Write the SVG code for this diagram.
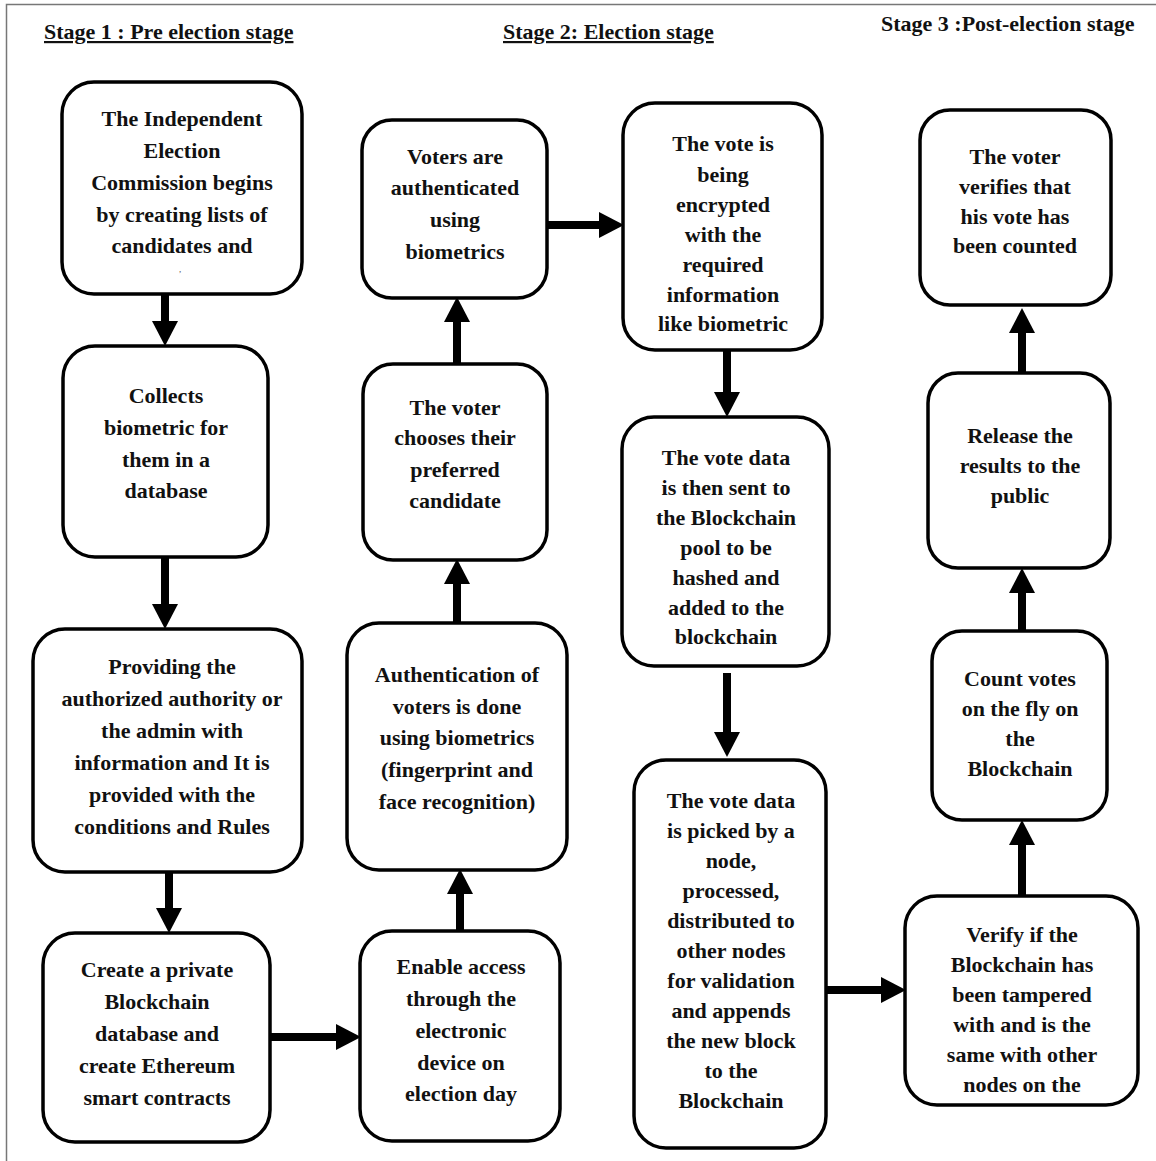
<svg xmlns="http://www.w3.org/2000/svg" width="1156" height="1161" viewBox="0 0 1156 1161">
<style>
.box{fill:#fff;stroke:#000;stroke-width:3.5}
.t{font-weight:bold;font-size:22px;fill:#111;text-anchor:middle}
.h{font-weight:bold;font-size:22px;fill:#111}
.c{stroke:#000;stroke-width:8;fill:none;marker-end:url(#ah)}
</style>
<defs>
<marker id="ah" markerUnits="userSpaceOnUse" markerWidth="26" markerHeight="28" refX="0" refY="14" orient="auto">
<path d="M0,1 L25,14 L0,27 z" fill="#000"/>
</marker>
</defs>
<rect width="1156" height="1161" fill="#fff"/>
<path d="M6.5,1161 V4.5 H1156" fill="none" stroke="#777" stroke-width="1.5"/>
<g font-family="Liberation Serif, Tinos, Times New Roman, DejaVu Serif, serif">
<g id="headers">
<text class="h" x="44" y="39" text-decoration="underline">Stage 1 : Pre election stage</text>
<text class="h" x="503" y="39" text-decoration="underline">Stage 2: Election stage</text>
<text class="h" x="881" y="31">Stage 3 :Post-election stage</text>
</g>
<g id="connectors">
<line class="c" x1="165" y1="294" x2="165" y2="321"/>
<line class="c" x1="165" y1="558" x2="165" y2="604"/>
<line class="c" x1="169" y1="872" x2="169" y2="908"/>
<line class="c" x1="270" y1="1037" x2="336" y2="1037"/>
<line class="c" x1="460" y1="930" x2="460" y2="894"/>
<line class="c" x1="457" y1="622" x2="457" y2="584"/>
<line class="c" x1="457" y1="363" x2="457" y2="322"/>
<line class="c" x1="547" y1="225" x2="599" y2="225"/>
<line class="c" x1="727" y1="350" x2="727" y2="392"/>
<line class="c" x1="727" y1="673" x2="727" y2="732"/>
<line class="c" x1="826" y1="990" x2="881" y2="990"/>
<line class="c" x1="1022" y1="895" x2="1022" y2="845"/>
<line class="c" x1="1022" y1="630" x2="1022" y2="593"/>
<line class="c" x1="1022" y1="372" x2="1022" y2="333"/>
</g>
<g id="nodeA">
<rect class="box" x="62" y="82" width="240" height="212" rx="32"/>
<text class="t"><tspan x="182" y="126">The Independent</tspan><tspan x="182" y="158">Election</tspan><tspan x="182" y="190">Commission begins</tspan><tspan x="182" y="222">by creating lists of</tspan><tspan x="182" y="253">candidates and</tspan></text>
<text x="180" y="272" font-size="9" fill="#555" text-anchor="middle">,</text>
</g>
<g id="nodeB">
<rect class="box" x="63" y="346" width="205" height="211" rx="32"/>
<text class="t"><tspan x="166" y="403">Collects</tspan><tspan x="166" y="435">biometric for</tspan><tspan x="166" y="467">them in a</tspan><tspan x="166" y="498">database</tspan></text>
</g>
<g id="nodeC">
<rect class="box" x="33" y="629" width="269" height="243" rx="32"/>
<text class="t"><tspan x="172" y="674">Providing the</tspan><tspan x="172" y="706">authorized authority or</tspan><tspan x="172" y="738">the admin with</tspan><tspan x="172" y="770">information and It is</tspan><tspan x="172" y="802">provided with the</tspan><tspan x="172" y="834">conditions and Rules</tspan></text>
</g>
<g id="nodeD">
<rect class="box" x="43" y="933" width="227" height="209" rx="32"/>
<text class="t"><tspan x="157" y="977">Create a private</tspan><tspan x="157" y="1009">Blockchain</tspan><tspan x="157" y="1041">database and</tspan><tspan x="157" y="1073">create Ethereum</tspan><tspan x="157" y="1105">smart contracts</tspan></text>
</g>
<g id="nodeE">
<rect class="box" x="362" y="120" width="185" height="178" rx="30"/>
<text class="t"><tspan x="455" y="164">Voters are</tspan><tspan x="455" y="195">authenticated</tspan><tspan x="455" y="227">using</tspan><tspan x="455" y="259">biometrics</tspan></text>
</g>
<g id="nodeF">
<rect class="box" x="363" y="364" width="184" height="196" rx="30"/>
<text class="t"><tspan x="455" y="415">The voter</tspan><tspan x="455" y="445">chooses their</tspan><tspan x="455" y="477">preferred</tspan><tspan x="455" y="508">candidate</tspan></text>
</g>
<g id="nodeG">
<rect class="box" x="347" y="623" width="220" height="247" rx="32"/>
<text class="t"><tspan x="457" y="682">Authentication of</tspan><tspan x="457" y="714">voters is done</tspan><tspan x="457" y="745">using biometrics</tspan><tspan x="457" y="777">(fingerprint and</tspan><tspan x="457" y="809">face recognition)</tspan></text>
</g>
<g id="nodeH">
<rect class="box" x="360" y="931" width="200" height="210" rx="32"/>
<text class="t"><tspan x="461" y="974">Enable access</tspan><tspan x="461" y="1006">through the</tspan><tspan x="461" y="1038">electronic</tspan><tspan x="461" y="1070">device on</tspan><tspan x="461" y="1101">election day</tspan></text>
</g>
<g id="nodeI">
<rect class="box" x="623" y="103" width="199" height="247" rx="32"/>
<text class="t"><tspan x="723" y="151">The vote is</tspan><tspan x="723" y="182">being</tspan><tspan x="723" y="212">encrypted</tspan><tspan x="723" y="242">with the</tspan><tspan x="723" y="272">required</tspan><tspan x="723" y="302">information</tspan><tspan x="723" y="331">like biometric</tspan></text>
</g>
<g id="nodeJ">
<rect class="box" x="622" y="417" width="207" height="249" rx="32"/>
<text class="t"><tspan x="726" y="465">The vote data</tspan><tspan x="726" y="495">is then sent to</tspan><tspan x="726" y="525">the Blockchain</tspan><tspan x="726" y="555">pool to be</tspan><tspan x="726" y="585">hashed and</tspan><tspan x="726" y="615">added to the</tspan><tspan x="726" y="644">blockchain</tspan></text>
</g>
<g id="nodeK">
<rect class="box" x="634" y="760" width="192" height="388" rx="32"/>
<text class="t"><tspan x="731" y="808">The vote data</tspan><tspan x="731" y="838">is picked by a</tspan><tspan x="731" y="868">node,</tspan><tspan x="731" y="898">processed,</tspan><tspan x="731" y="928">distributed to</tspan><tspan x="731" y="958">other nodes</tspan><tspan x="731" y="988">for validation</tspan><tspan x="731" y="1018">and appends</tspan><tspan x="731" y="1048">the new block</tspan><tspan x="731" y="1078">to the</tspan><tspan x="731" y="1108">Blockchain</tspan></text>
</g>
<g id="nodeL">
<rect class="box" x="905" y="896" width="233" height="209" rx="32"/>
<text class="t"><tspan x="1022" y="942">Verify if the</tspan><tspan x="1022" y="972">Blockchain has</tspan><tspan x="1022" y="1002">been tampered</tspan><tspan x="1022" y="1032">with and is the</tspan><tspan x="1022" y="1062">same with other</tspan><tspan x="1022" y="1092">nodes on the</tspan></text>
</g>
<g id="nodeM">
<rect class="box" x="932" y="631" width="175" height="189" rx="30"/>
<text class="t"><tspan x="1020" y="686">Count votes</tspan><tspan x="1020" y="716">on the fly on</tspan><tspan x="1020" y="746">the</tspan><tspan x="1020" y="776">Blockchain</tspan></text>
</g>
<g id="nodeN">
<rect class="box" x="928" y="373" width="182" height="195" rx="30"/>
<text class="t"><tspan x="1020" y="443">Release the</tspan><tspan x="1020" y="473">results to the</tspan><tspan x="1020" y="503">public</tspan></text>
</g>
<g id="nodeO">
<rect class="box" x="920" y="110" width="191" height="195" rx="30"/>
<text class="t"><tspan x="1015" y="164">The voter</tspan><tspan x="1015" y="194">verifies that</tspan><tspan x="1015" y="224">his vote has</tspan><tspan x="1015" y="253">been counted</tspan></text>
</g>
</g>
</svg>
